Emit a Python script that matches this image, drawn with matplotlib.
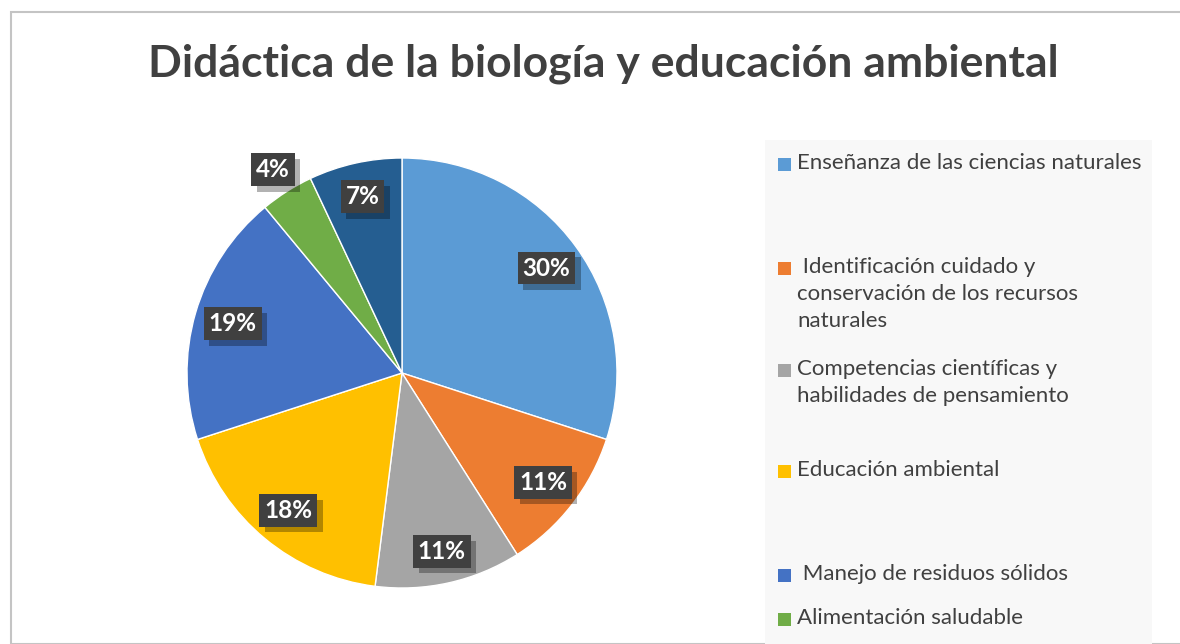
import matplotlib
matplotlib.use("Agg")
import matplotlib.pyplot as plt
import matplotlib.patches as mpatches
import matplotlib.patheffects as pe
import numpy as np

plt.rcParams['font.family'] = ['Lato', 'DejaVu Sans']

title = "Didáctica de la biología y educación ambiental"
categories = [
    "Enseñanza de las ciencias naturales",
    " Identificación cuidado y\nconservación de los recursos\nnaturales",
    "Competencias científicas y\nhabilidades de pensamiento",
    "Educación ambiental",
    " Manejo de residuos sólidos",
    "Alimentación saludable",
    "Otros",
]
values = [30, 11, 11, 18, 19, 4, 7]
colors = ["#5B9BD5", "#ED7D31", "#A5A5A5", "#FFC000", "#4472C4", "#70AD47", "#255E91"]

W, H = 1180, 644
fig = plt.figure(figsize=(W / 100, H / 100), dpi=100)
fig.patch.set_facecolor("white")

# chart border
fig.add_artist(mpatches.Rectangle((11 / W, 0), 1.2, 1 - 12 / H, transform=fig.transFigure,
                                  fill=False, edgecolor="#c4c4c4", linewidth=1.5))

fig.text(603 / W, 1 - 64 / H, title, ha="center", va="center", fontsize=32,
         fontweight="bold", color="#404040")

# pie axes
cx, cy, r = 402, 373, 215
ax = fig.add_axes([(cx - r) / W, (H - cy - r) / H, 2 * r / W, 2 * r / H])
wedges, _ = ax.pie(values, colors=colors, startangle=90, counterclock=False,
                   radius=1, wedgeprops=dict(edgecolor="white", linewidth=1.0))
ax.set_xlim(-1, 1)
ax.set_ylim(-1, 1)
ax.set_aspect("equal")
ax.axis("off")

total = sum(values)
dists = [0.83, 0.83, 0.85, 0.83, 0.82, 1.12, 0.84]
for w, v, d in zip(wedges, values, dists):
    th = np.deg2rad((w.theta1 + w.theta2) / 2)
    x, y = d * np.cos(th), d * np.sin(th)
    label = f"{round(100 * v / total)}%"
    t = ax.text(x, y, label, ha="center", va="center", fontsize=17.5, fontweight="bold",
                color="white",
                bbox=dict(boxstyle="square,pad=0.2", facecolor="#404040", edgecolor="none"))
    t.get_bbox_patch().set_path_effects([
        pe.SimplePatchShadow(offset=(4, -4), shadow_rgbFace="black", alpha=0.3),
        pe.Normal()])

# legend panel
fig.add_artist(mpatches.Rectangle((765 / W, 0), (1152 - 765) / W, 1 - 140 / H,
                                  transform=fig.transFigure, facecolor="#f8f8f8",
                                  edgecolor="none"))
leg_y = [164, 268, 370, 471, 575, 619, 700]
for cat, col, ly in zip(categories, colors, leg_y):
    if ly > H:
        continue
    fig.add_artist(mpatches.Rectangle((778 / W, 1 - (ly + 7) / H), 13 / W, 13 / H,
                                      transform=fig.transFigure, facecolor=col,
                                      edgecolor="none"))
    fig.text(797 / W, 1 - (ly - 11) / H, cat, ha="left", va="top", fontsize=16,
             color="#404040", linespacing=1.45)

fig.savefig("out.png", dpi=100)
